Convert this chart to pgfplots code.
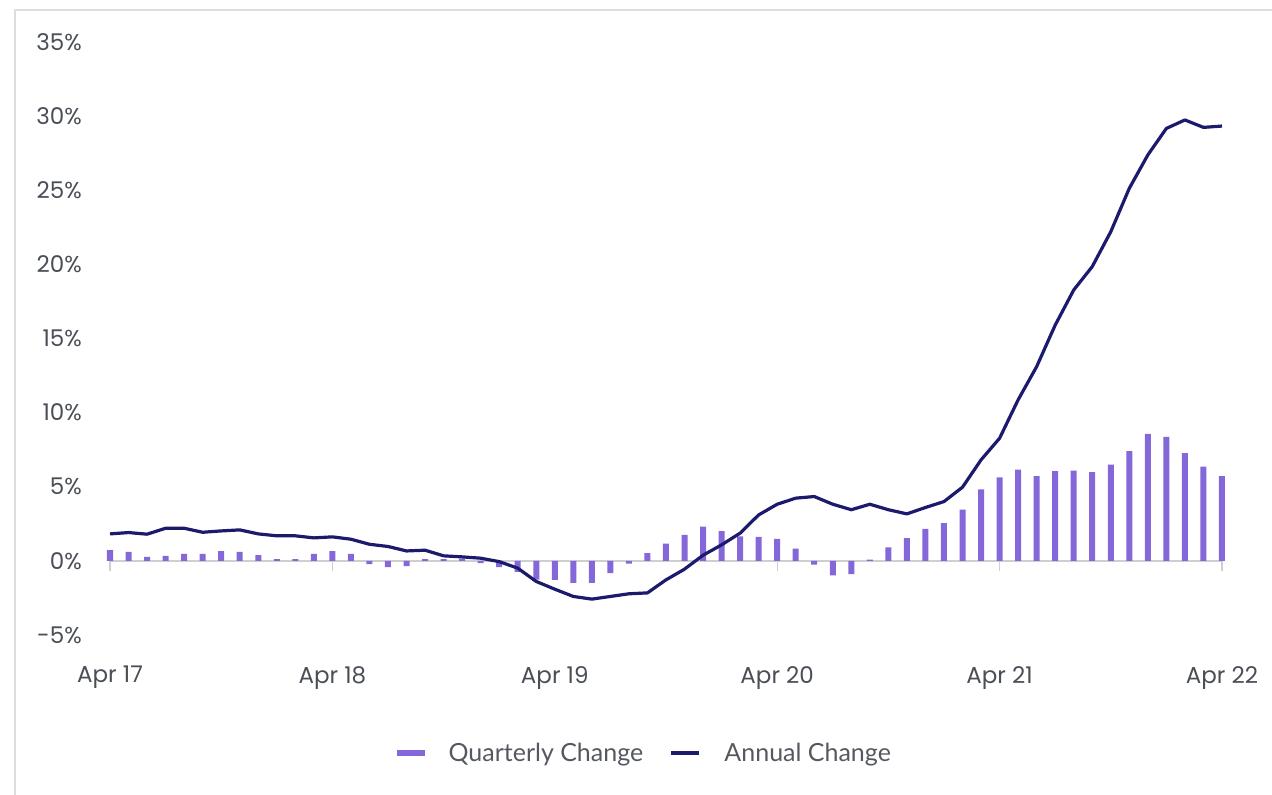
\documentclass[border=0pt]{standalone}
\usepackage{fontspec}
\usepackage{pgfplots}
\pgfplotsset{compat=1.18}
\usepackage{pgfplotstable}
\newfontfamily\tickfont{Poppins}
\newfontfamily\legfont{Lato}
\definecolor{barcol}{HTML}{8467D9}
\definecolor{linecol}{HTML}{1B1A6D}
\definecolor{tickgray}{HTML}{4A4E56}
\definecolor{leggray}{HTML}{55595F}
\definecolor{framegray}{HTML}{DDDDDD}
\definecolor{zerogray}{HTML}{CFCFCF}

\pgfplotstableread{
i q a
0 0.72 1.82
1 0.61 1.91
2 0.27 1.80
3 0.34 2.20
4 0.47 2.20
5 0.47 1.93
6 0.65 2.02
7 0.61 2.09
8 0.38 1.82
9 0.11 1.69
10 0.11 1.69
11 0.47 1.55
12 0.65 1.62
13 0.47 1.46
14 -0.22 1.12
15 -0.43 0.97
16 -0.36 0.67
17 0.11 0.72
18 0.11 0.34
19 0.16 0.27
20 -0.16 0.18
21 -0.43 -0.05
22 -0.74 -0.49
23 -1.26 -1.39
24 -1.28 -1.91
25 -1.48 -2.40
26 -1.48 -2.58
27 -0.83 -2.40
28 -0.18 -2.22
29 0.52 -2.16
30 1.17 -1.28
31 1.75 -0.56
32 2.31 0.38
33 2.00 1.08
34 1.66 1.87
35 1.62 3.10
36 1.48 3.82
37 0.83 4.23
38 -0.25 4.34
39 -0.97 3.82
40 -0.90 3.45
41 0.09 3.82
42 0.91 3.45
43 1.53 3.17
44 2.16 3.60
45 2.54 4.00
46 3.46 4.97
47 4.83 6.81
48 5.64 8.27
49 6.16 10.86
50 5.71 13.10
51 6.05 15.90
52 6.09 18.27
53 5.98 19.85
54 6.49 22.20
55 7.40 25.13
56 8.56 27.38
57 8.36 29.17
58 7.26 29.74
59 6.36 29.24
60 5.71 29.33
}\datatable

\begin{document}
\begin{tikzpicture}
\begin{axis}[
  at={(110bp,160bp)}, anchor=south west,
  scale only axis, width=1112bp, height=593bp,
  xmin=0, xmax=60, ymin=-5, ymax=35,
  clip=false,
  axis x line=bottom, axis y line=left,
  axis line style={draw=none},
  tick style={draw=none},
  major tick length=0pt,
  xtick={0,12,24,36,48,60},
  xticklabels={Apr 17,Apr 18,Apr 19,Apr 20,Apr 21,Apr 22},
  ytick={-5,0,5,10,15,20,25,30,35},
  yticklabels={-5\%,0\%,5\%,10\%,15\%,20\%,25\%,30\%,35\%},
  ticklabel style={font=\tickfont\fontsize{23bp}{27bp}\selectfont, text=tickgray},
  xticklabel style={anchor=north, inner sep=0pt, yshift=-31bp},
  yticklabel style={anchor=east, inner sep=0pt, xshift=-28bp},
  legend columns=2,
  legend style={
    at={(0.480,-0.199)}, anchor=center,
    draw=none, fill=none, inner sep=0pt,
    font=\legfont\fontsize{25bp}{29bp}\selectfont, text=leggray,
    nodes={inner sep=0pt},
    /tikz/every odd column/.append style={column sep=24bp},
    /tikz/every even column/.append style={column sep=26bp},
  },
]
\draw[zerogray, line width=1.5bp] (axis cs:0,0) -- (axis cs:60,0);
\draw[zerogray, line width=1.2bp] (axis cs:0,0) -- (axis cs:0,-0.67);
\draw[zerogray, line width=1.2bp] (axis cs:12,0) -- (axis cs:12,-0.67);
\draw[zerogray, line width=1.2bp] (axis cs:24,0) -- (axis cs:24,-0.67);
\draw[zerogray, line width=1.2bp] (axis cs:36,0) -- (axis cs:36,-0.67);
\draw[zerogray, line width=1.2bp] (axis cs:48,0) -- (axis cs:48,-0.67);
\draw[zerogray, line width=1.2bp] (axis cs:60,0) -- (axis cs:60,-0.67);
\addplot[ybar, bar width=6bp, bar shift=0pt, fill=barcol, draw=none,
  legend image code/.code={\fill[barcol] (0bp,-3bp) rectangle (28bp,3bp);}]
  table[x=i, y=q] {\datatable};
\addlegendentry{Quarterly Change}
\addplot[linecol, line width=3.2bp, line join=round, no marks,
  legend image code/.code={\draw[linecol, line width=3.2bp] (0bp,0bp) -- (28bp,0bp);}]
  table[x=i, y=a] {\datatable};
\addlegendentry{Annual Change}
\end{axis}
\draw[framegray, line width=2bp] (15bp,0bp) -- (15bp,785bp) -- (1272bp,785bp);
\pgfresetboundingbox
\path[use as bounding box] (0bp,0bp) rectangle (1272bp,795bp);
\end{tikzpicture}
\end{document}
